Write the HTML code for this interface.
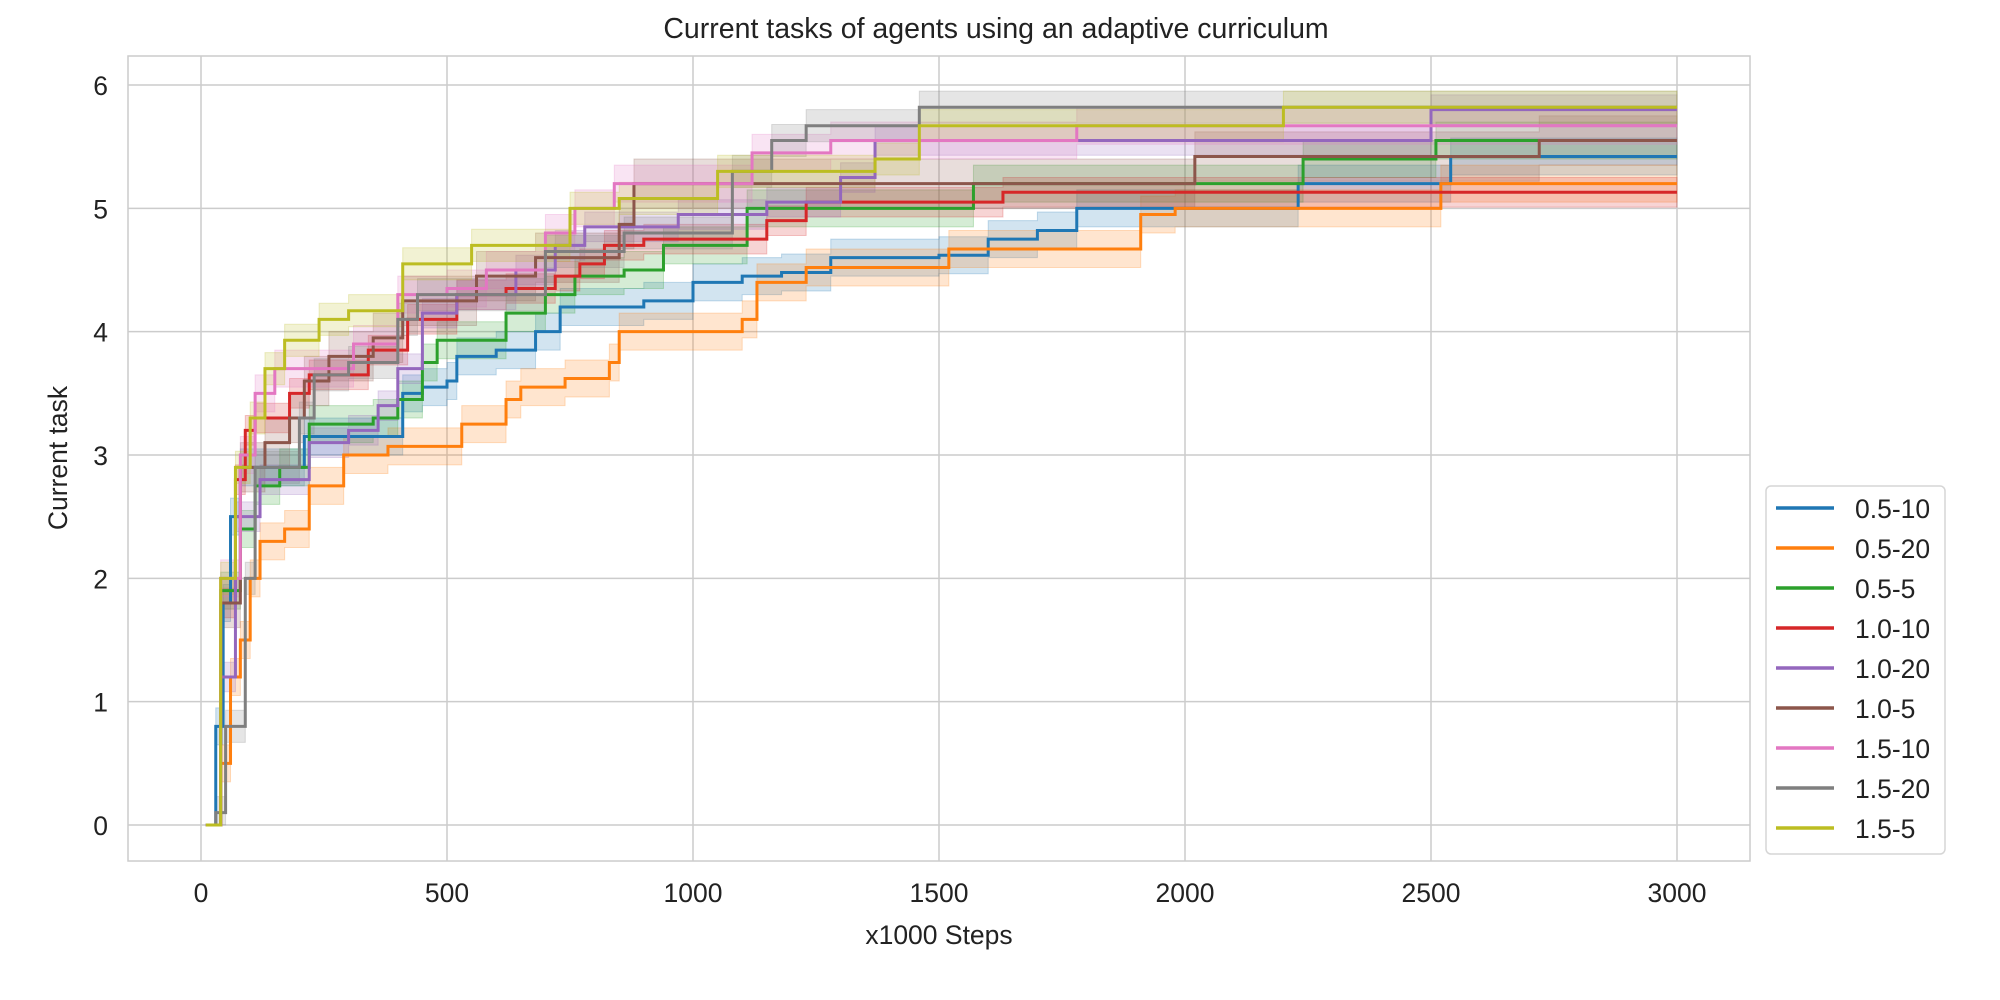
<!DOCTYPE html>
<html><head><meta charset="utf-8"><style>
body{margin:0;background:#fff}
svg{display:block;font-family:"Liberation Sans",sans-serif}
</style></head><body>
<svg id="chart" width="2000" height="1000" viewBox="0 0 2000 1000" xmlns="http://www.w3.org/2000/svg">
<rect width="2000" height="1000" fill="#fff"/>
<text x="996" y="38" font-size="28.5" text-anchor="middle" fill="#222">Current tasks of agents using an adaptive curriculum</text>
<g id="grid"></g>
<rect x="128" y="56" width="1622" height="805" fill="none" stroke="#cccccc" stroke-width="1.5"/>
<g id="bands"></g>
<g id="lines"></g>
<g id="ticks"></g>
<text x="939" y="944" font-size="26.5" text-anchor="middle" fill="#222">x1000 Steps</text>
<text x="0" y="0" font-size="26.5" text-anchor="middle" fill="#222" transform="translate(67,458) rotate(-90)">Current task</text>
<g id="legend"></g>
</svg>
<script>
const names=["0.5-10","0.5-20","0.5-5","1.0-10","1.0-20","1.0-5","1.5-10","1.5-20","1.5-5"];
const colors=["#1f77b4","#ff7f0e","#2ca02c","#d62728","#9467bd","#8c564b","#e377c2","#7f7f7f","#bcbd22"];
const xTicks=[0,500,1000,1500,2000,2500,3000];
const yTicks=[0,1,2,3,4,5,6];
const sx0=[10,30,45,60,80,210,410,450,500,520,600,680,730,900,1000,1100,1180,1280,1500,1600,1700,1780,2230,2540];
const sy0=[0,0.8,1.8,2.5,2.9,3.15,3.5,3.55,3.6,3.8,3.85,4.0,4.2,4.25,4.4,4.45,4.48,4.6,4.62,4.75,4.82,5.0,5.2,5.42];
const sx1=[10,40,60,80,100,120,170,220,290,380,530,620,650,740,830,850,1100,1130,1230,1520,1910,1980,2520];
const sy1=[0,0.5,1.2,1.5,2.0,2.3,2.4,2.75,3.0,3.07,3.25,3.45,3.55,3.62,3.75,4.0,4.1,4.4,4.52,4.67,4.95,5.0,5.2];
const sx2=[10,40,80,110,160,220,350,400,450,480,620,700,760,860,940,1110,1570,2240,2510];
const sy2=[0,1.9,2.4,2.75,2.9,3.25,3.3,3.45,3.75,3.93,4.15,4.3,4.45,4.5,4.7,5.0,5.2,5.4,5.55];
const sx3=[10,40,70,90,110,180,220,340,420,520,620,720,770,820,900,1150,1230,1630];
const sy3=[0,1.8,2.8,3.2,3.3,3.5,3.65,3.85,4.1,4.3,4.35,4.45,4.55,4.7,4.75,4.9,5.05,5.13];
const sx4=[10,40,70,120,220,300,360,400,450,520,640,720,780,970,1150,1300,1370,2500];
const sy4=[0,1.2,2.5,2.8,3.1,3.2,3.4,3.7,4.15,4.3,4.5,4.7,4.85,4.95,5.05,5.25,5.55,5.8];
const sx5=[10,40,80,130,180,210,260,350,410,560,680,850,880,2020,2720];
const sy5=[0,1.8,2.9,3.1,3.3,3.6,3.8,3.95,4.25,4.45,4.6,4.87,5.2,5.42,5.55];
const sx6=[10,40,80,110,150,310,400,500,580,700,760,840,1120,1280,1780];
const sy6=[0,2.0,3.0,3.5,3.7,3.9,4.3,4.35,4.5,4.8,5.0,5.2,5.45,5.55,5.67];
const sx7=[10,30,50,90,110,200,230,300,400,440,700,860,1080,1160,1230,1460];
const sy7=[0,0.1,0.8,2.0,2.9,3.3,3.65,3.75,4.1,4.3,4.65,4.8,5.3,5.55,5.67,5.82];
const sx8=[10,40,70,100,130,170,240,300,410,550,750,850,1050,1370,1460,2200];
const sy8=[0,2.0,2.9,3.3,3.7,3.93,4.1,4.17,4.55,4.7,5.0,5.08,5.3,5.4,5.67,5.82];
const bandW=[0.15,0.15,0.15,0.12,0.12,0.2,0.15,0.13,0.13];
const allX=[sx0,sx1,sx2,sx3,sx4,sx5,sx6,sx7,sx8];
const allY=[sy0,sy1,sy2,sy3,sy4,sy5,sy6,sy7,sy8];
const X=v=>201+v*1476/3000, Y=v=>825-v*740/6, XMAX=3000;
const NS="http://www.w3.org/2000/svg";
function mk(t,a,p){const e=document.createElementNS(NS,t);for(const k in a)e.setAttribute(k,a[k]);p.appendChild(e);return e;}
const grid=document.getElementById('grid'),ticks=document.getElementById('ticks');
xTicks.forEach(t=>{
 const l=mk('line',{x1:X(t),x2:X(t),y1:56,y2:861,stroke:'#cccccc','stroke-width':1.5},grid);
 
 
 const tx=mk('text',{x:X(t),y:902,'font-size':26.5,'text-anchor':'middle',fill:'#222'},ticks);
 tx.textContent=t;
 
 
});
yTicks.forEach(t=>{
 const l=mk('line',{x1:128,x2:1750,y1:Y(t),y2:Y(t),stroke:'#cccccc','stroke-width':1.5},grid);
 
 
 const tx=mk('text',{x:108,y:Y(t)+10,'font-size':26.5,'text-anchor':'end',fill:'#222'},ticks);
 tx.textContent=t;
 
 
});
function stepPts(xs,ys,off){const p=[];for(let i=0;i<xs.length;i++){const xn=i+1<xs.length?xs[i+1]:XMAX;const y=Math.max(0,ys[i]+(ys[i]>0?off:0));p.push([X(xs[i]),Y(y)],[X(xn),Y(y)]);}return p;}
const bands=document.getElementById('bands'),lines=document.getElementById('lines');
for(let s=0;s<9;s++){
 const up=stepPts(allX[s],allY[s],bandW[s]),lo=stepPts(allX[s],allY[s],-bandW[s]).reverse();
 const poly=mk('polygon',{points:up.concat(lo).map(p=>p.join(',')).join(' '),fill:colors[s],'fill-opacity':0.2,stroke:colors[s],'stroke-opacity':0.25},bands);
 
 
}
for(let s=0;s<9;s++){
 const m=stepPts(allX[s],allY[s],0);
 const pl=mk('polyline',{points:m.map(p=>p.join(',')).join(' '),fill:'none',stroke:colors[s],'stroke-width':3},lines);
 
 
}
const lg=document.getElementById('legend');
const box=mk('rect',{x:1766,y:486,width:179,height:368,rx:5,fill:'#fff',stroke:'#d6d6d6','stroke-width':1.5},lg);


names.forEach((n,i)=>{
 const y=508+i*40;
 const g=mk('g',{},lg);
 
 
 mk('line',{x1:1776,x2:1834,y1:y,y2:y,stroke:colors[i],'stroke-width':3.5},g);
 const t=mk('text',{x:1855,y:y+10,'font-size':26.5,fill:'#222'},g);
 t.textContent=n;
});
</script>
</body></html>
